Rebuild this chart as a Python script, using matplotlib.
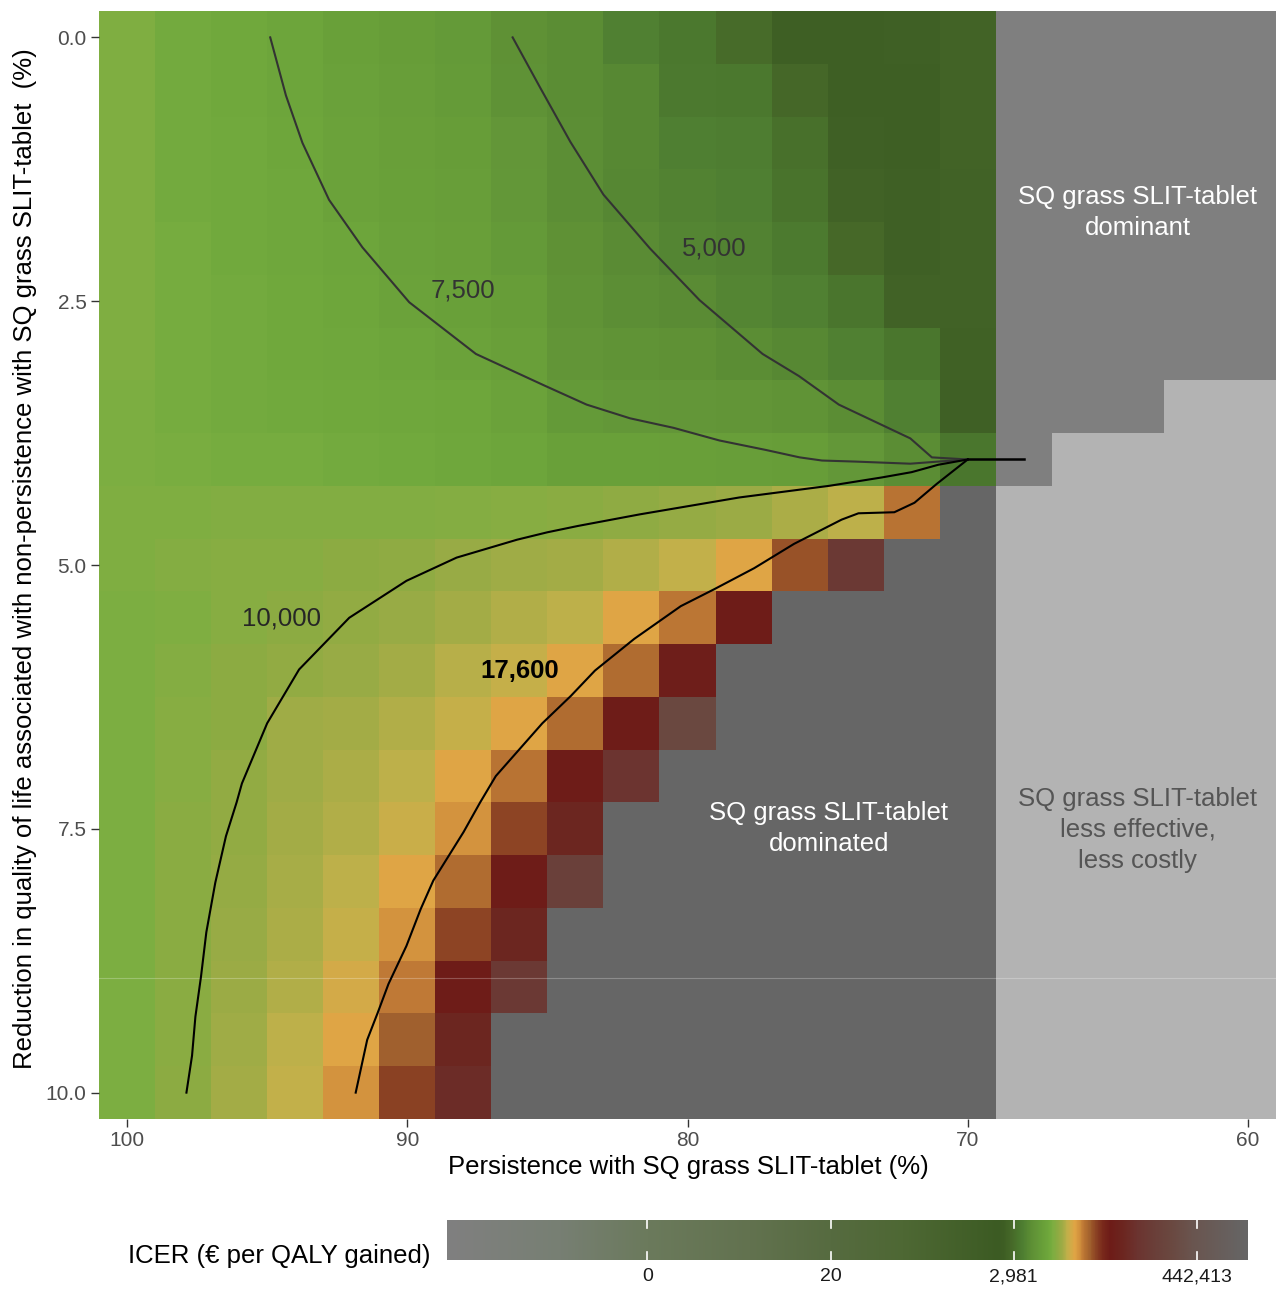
import numpy as np
import matplotlib
matplotlib.use("Agg")
import matplotlib.pyplot as plt
from matplotlib.colors import LinearSegmentedColormap, ListedColormap, Normalize

plt.rcParams['font.family'] = ['Liberation Sans', 'DejaVu Sans']

# grid of the heatmap
PERSISTENCE = [100, 98, 96, 94, 92, 90, 88, 86, 84, 82, 80, 78, 76, 74, 72, 70]
RIGHT_COLS = [68, 66, 64, 62, 60]
QOL_REDUCTION = [0.0, 0.5, 1.0, 1.5, 2.0, 2.5, 3.0, 3.5, 4.0, 4.5, 5.0,
                 5.5, 6.0, 6.5, 7.0, 7.5, 8.0, 8.5, 9.0, 9.5, 10.0]

# ICER (EUR per QALY) per row of QOL_REDUCTION, columns follow PERSISTENCE
# None = SQ grass SLIT-tablet dominated
N = None
ICER = [
    [8900, 8100, 7900, 7300, 6800, 6300, 5900, 4950, 4650, 3950, 3500, 2900, 2300, 2300, 2350, 2500],
    [8900, 8100, 7900, 7400, 6900, 6400, 6100, 5150, 4650, 4350, 3550, 3450, 2750, 2300, 2300, 2500],
    [8900, 8200, 8000, 7500, 7000, 6600, 6300, 5500, 4800, 4400, 3900, 3750, 3150, 2350, 2300, 2500],
    [8900, 8200, 8000, 7600, 7100, 6700, 6400, 5700, 4800, 4300, 4050, 3850, 3250, 2450, 2350, 2450],
    [8900, 8250, 8050, 7700, 7300, 6900, 6600, 5900, 4950, 4600, 4200, 4050, 3650, 2800, 2350, 2450],
    [8900, 8300, 8100, 7800, 7450, 7100, 6800, 6300, 5200, 4750, 4550, 4250, 3950, 3300, 2450, 2450],
    [8850, 8300, 8100, 7900, 7600, 7400, 7100, 6600, 5450, 5200, 5000, 4650, 4350, 3950, 3400, 2400],
    [8700, 8350, 8150, 7950, 7800, 7700, 7500, 7000, 5900, 5700, 5600, 5400, 5200, 4650, 3950, 2350],
    [8650, 8550, 8400, 8300, 8150, 7950, 7700, 7300, 6700, 6700, 6600, 6400, 6300, 5700, 4700, 3400],
    [8800, 8800, 9000, 9050, 9000, 9000, 9200, 9400, 9650, 10050, 10600, 11000, 11900, 12900, 20800, N],
    [8850, 9200, 9450, 9550, 9800, 10000, 10800, 11300, 11600, 12200, 13100, 16000, 26000, 110000, N, N],
    [8750, 8900, 9450, 9850, 10250, 10800, 11500, 12300, 12800, 16000, 20500, 42000, N, N, N, N],
    [8650, 9300, 9800, 10250, 10800, 11500, 12500, 13300, 16000, 22000, 45000, N, N, N, N, N],
    [8650, 9400, 9900, 11200, 11500, 12300, 13300, 16000, 22000, 42000, 220000, N, N, N, N, N],
    [8650, 9400, 10250, 11300, 11900, 12900, 16000, 20800, 42000, 90000, N, N, N, N, N, N],
    [8650, 9600, 10400, 11500, 12300, 13700, 18000, 28000, 60000, N, N, N, N, N, N, N],
    [8650, 9700, 10600, 11800, 12700, 16000, 22000, 42000, 150000, N, N, N, N, N, N, N],
    [8650, 9700, 10800, 11900, 13300, 18000, 28000, 60000, N, N, N, N, N, N, N, N],
    [8650, 9700, 10900, 12300, 14500, 20200, 42000, 110000, N, N, N, N, N, N, N, N],
    [8650, 9700, 11200, 12700, 16000, 24500, 60000, N, N, N, N, N, N, N, N, N],
    [8650, 9800, 11500, 13200, 18000, 29000, 70000, N, N, N, N, N, N, N, N, N],
]
# columns right of 70 %: from this QOL reduction on, less effective / less costly
LESS_EFFECTIVE_FROM = [4.5, 4.0, 4.0, 3.5, 3.5]

# contour lines (persistence, qol reduction)
C5000_X = [86.24, 85.25, 84.18, 83.0, 81.34, 79.57, 77.32, 76.02, 74.6, 72.05, 71.28, 70.0]
C5000_Y = [0.0, 0.48, 0.99, 1.49, 2.0, 2.49, 3.0, 3.21, 3.48, 3.8, 3.98, 4.0]
C7500_X = [94.89, 94.33, 93.74, 92.79, 91.6, 89.93, 87.55, 85.1, 83.6, 82.05, 80.5, 78.86,
           77.2, 76.0, 75.2, 74.0, 72.05, 71.05, 70.0]
C7500_Y = [0.0, 0.55, 1.0, 1.54, 1.99, 2.51, 3.0, 3.3, 3.48, 3.61, 3.7, 3.82,
           3.91, 3.98, 4.01, 4.02, 4.04, 4.02, 4.0]
C10000_X = [97.88, 97.68, 97.56, 97.36, 97.17, 96.85, 96.47, 96.09, 95.9, 95.0, 93.86, 92.07,
            90.03, 88.24, 86.08, 85.0, 83.91, 81.7, 78.15, 74.95, 73.06, 72.0, 71.05, 70.0]
C10000_Y = [10.0, 9.65, 9.28, 8.9, 8.48, 8.01, 7.57, 7.25, 7.07, 6.5, 5.99, 5.5,
            5.15, 4.93, 4.76, 4.69, 4.63, 4.52, 4.36, 4.25, 4.17, 4.12, 4.05, 4.0]
C17600_X = [91.84, 91.43, 91.05, 90.67, 90.03, 89.52, 89.07, 87.99, 87.4, 86.84, 85.18, 84.16,
            83.3, 81.9, 80.24, 79.05, 77.62, 76.2, 74.5, 73.9, 72.62, 71.9, 71.1, 70.0]
C17600_Y = [10.0, 9.5, 9.24, 8.97, 8.61, 8.26, 7.99, 7.53, 7.25, 7.0, 6.5, 6.24,
            6.0, 5.7, 5.39, 5.23, 5.03, 4.8, 4.57, 4.51, 4.5, 4.41, 4.23, 4.0]
TAIL_X = [70.0, 68.0]
TAIL_Y = [4.0, 4.0]

# colour legend
CBAR_VALUES = [0.135, 20.09, 2981, 442413]
CBAR_LABELS = ['0', '20', '2,981', '442,413']

# gradient of the fill scale (ICER, colour)
GRADIENT = [
    (np.exp(-7.48), '#808080'), (np.exp(-4.4), '#777f73'), (np.exp(-2.0), '#6b7a5c'),
    (np.exp(0.8), '#62724f'), (np.exp(3.0), '#566b40'), (np.exp(5.0), '#4e6834'),
    (2000, '#3c5b23'), (2300, '#3e5e24'), (2900, '#476a29'), (3400, '#4a762d'),
    (3900, '#4f7f32'), (4400, '#578833'), (4950, '#5e9035'), (5600, '#639638'),
    (6100, '#659b38'), (6700, '#69a039'), (7300, '#6ca43b'), (7900, '#70a83c'),
    (8300, '#74ab3e'), (8800, '#7dae41'), (9400, '#85ad42'), (10000, '#8dab42'),
    (11000, '#9aab45'), (12000, '#aaad47'), (13000, '#c0b04a'), (14500, '#d2ab48'),
    (16000, '#e0a545'), (18000, '#d4943e'), (20000, '#c07a36'), (22000, '#b06c30'),
    (24500, '#a0602e'), (26000, '#985228'), (28000, '#8e4625'), (34000, '#7a2a1c'),
    (42000, '#6e1c18'), (60000, '#6c2620'), (90000, '#6c3430'), (150000, '#6a403a'),
    (220000, '#6a4840'), (400000, '#6a554f'), (1.8e6, '#666666'),
]

lmin = np.log(GRADIENT[0][0])
lmax = np.log(GRADIENT[-1][0])
cmap = LinearSegmentedColormap.from_list(
    'icer', [((np.log(v) - lmin) / (lmax - lmin), c) for v, c in GRADIENT], N=1024)
norm = Normalize(lmin, lmax)

xcent = PERSISTENCE + RIGHT_COLS
x_edges = [xcent[0] + 1] + [x - 1 for x in xcent]
y_edges = [QOL_REDUCTION[0] - 0.25] + [y + 0.25 for y in QOL_REDUCTION]

ny, nx = len(QOL_REDUCTION), len(xcent)
cat = np.zeros((ny, nx))
val = np.full((ny, nx), np.nan)
for i, row in enumerate(ICER):
    for j, v in enumerate(row):
        if v is not None:
            val[i, j] = np.log(v)
    for k, start in enumerate(LESS_EFFECTIVE_FROM):
        cat[i, len(PERSISTENCE) + k] = 2 if QOL_REDUCTION[i] >= start else 1

fig = plt.figure(figsize=(12.76, 12.90), dpi=100)
ax = fig.add_axes([99 / 1276, 1 - 1119 / 1290, 1177 / 1276, 1108 / 1290])

ax.pcolormesh(x_edges, y_edges, cat, cmap=ListedColormap(['#666666', '#7f7f7f', '#b3b3b3']),
              vmin=-0.5, vmax=2.5, shading='flat', linewidth=0, antialiased=False)
ax.pcolormesh(x_edges, y_edges, np.ma.masked_invalid(val), cmap=cmap, norm=norm,
              shading='flat', linewidth=0, antialiased=False)
ax.axhline(8.91, color='white', alpha=0.25, lw=0.8)

ax.plot(C5000_X, C5000_Y, color='#333333', lw=1.5)
ax.plot(C7500_X, C7500_Y, color='#333333', lw=1.5)
ax.plot(C10000_X, C10000_Y, color='black', lw=1.5)
ax.plot(C17600_X, C17600_Y, color='black', lw=1.5)
ax.plot(TAIL_X, TAIL_Y, color='black', lw=1.8)

lab = dict(fontsize=18.5, ha='center', va='center')
ax.text(79.04, 2.0, '5,000', color='#333333', **lab)
ax.text(88.0, 2.4, '7,500', color='#333333', **lab)
ax.text(94.5, 5.51, '10,000', color='#262626', **lab)
ax.text(86.0, 6.0, '17,600', color='black', fontweight='bold', **lab)

ax.text(63.93, 1.66, 'SQ grass SLIT-tablet\ndominant', color='white', linespacing=1.36, **lab)
ax.text(74.96, 7.5, 'SQ grass SLIT-tablet\ndominated', color='white', linespacing=1.36, **lab)
ax.text(63.93, 7.51, 'SQ grass SLIT-tablet\nless effective,\nless costly', color='#555555',
        linespacing=1.36, **lab)

ax.set_xlim(x_edges[0], x_edges[-1])
ax.set_ylim(y_edges[-1], y_edges[0])
ax.set_xticks([100, 90, 80, 70, 60])
ax.set_yticks([0.0, 2.5, 5.0, 7.5, 10.0], ['0.0', '2.5', '5.0', '7.5', '10.0'])
ax.tick_params(labelsize=15, labelcolor='#4d4d4d', color='#333333', length=6, width=1, pad=3)
for s in ax.spines.values():
    s.set_visible(False)

fig.text(688 / 1276, 1 - 1167 / 1290, 'Persistence with SQ grass SLIT-tablet (%)',
         fontsize=18.5, ha='center', va='center')
fig.text(25 / 1276, 1 - 559 / 1290,
         'Reduction in quality of life associated with non-persistence with SQ grass SLIT-tablet  (%)',
         fontsize=18.5, ha='center', va='center', rotation=90)

# colour bar
cax = fig.add_axes([447 / 1276, 1 - 1260 / 1290, 801 / 1276, 40 / 1290])
cax.imshow(np.linspace(lmin, lmax, 800)[None, :], aspect='auto', cmap=cmap, norm=norm,
           extent=[lmin, lmax, 0, 1])
ticks = np.log(CBAR_VALUES)
for t in ticks:
    cax.plot([t, t], [0, 0.2], color='white', lw=1.2)
    cax.plot([t, t], [0.8, 1], color='white', lw=1.2)
cax.set_xlim(lmin, lmax)
cax.set_ylim(0, 1)
cax.set_yticks([])
cax.set_xticks(ticks, CBAR_LABELS)
cax.tick_params(axis='x', length=0, labelsize=14, labelcolor='#1a1a1a', pad=6)
for s in cax.spines.values():
    s.set_visible(False)
fig.text(128 / 1276, 1 - 1256 / 1290, 'ICER (€ per QALY gained)', fontsize=18.5,
         ha='left', va='center')

fig.savefig('out.png', dpi=100, facecolor='white')
